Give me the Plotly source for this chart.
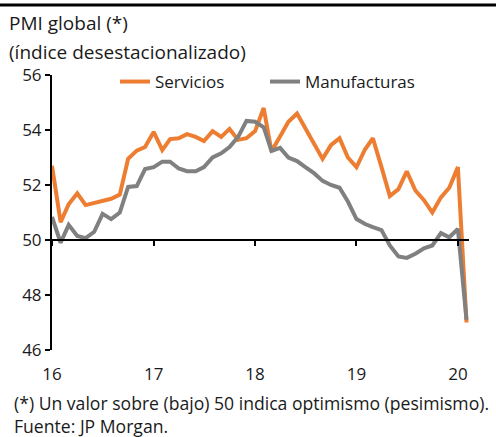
import pandas as pd
import plotly.graph_objects as go

# ---- data ----
start_month = "2016-01-01"
n_months = 50
meses = pd.date_range(start_month, periods=n_months, freq="MS")

servicios = [52.7, 50.65, 51.3, 51.7, 51.27, 51.35, 51.4, 51.5, 51.65, 52.95,
             53.25, 53.38, 53.93, 53.27, 53.67, 53.7, 53.85, 53.75, 53.6, 53.96,
             53.75, 54.04, 53.64, 53.7, 53.96, 54.8, 53.22, 53.75, 54.3, 54.6,
             54.05, 53.5, 52.95, 53.45, 53.7, 53.0, 52.65, 53.3, 53.7, 52.65,
             51.6, 51.85, 52.5, 51.8, 51.45, 51.0, 51.55, 51.9, 52.65, 47.0]

manufacturas = [50.84, 49.9, 50.55, 50.15, 50.07, 50.3, 50.95, 50.76, 51.0, 51.93,
                51.96, 52.58, 52.65, 52.85, 52.85, 52.6, 52.5, 52.5, 52.65, 53.0,
                53.15, 53.38, 53.75, 54.33, 54.3, 54.1, 53.24, 53.35, 53.0, 52.87,
                52.65, 52.43, 52.15, 52.0, 51.9, 51.4, 50.76, 50.58, 50.47, 50.36,
                49.8, 49.4, 49.35, 49.5, 49.7, 49.8, 50.25, 50.1, 50.4, 47.1]

y_ticks = [46, 48, 50, 52, 54, 56]
x_tick_labels = ["16", "17", "18", "19", "20"]
x_tick_vals = pd.date_range("2016-01-01", periods=5, freq="YS")

titulo1 = "PMI global (*)"
titulo2 = "(índice desestacionalizado)"
nota1 = "(*) Un valor sobre (bajo) 50 indica optimismo (pesimismo)."
nota2 = "Fuente: JP Morgan."

# ---- layout geometry ----
W, H = 496, 437
ML, MR, MT, MB = 52, 27, 75, 87
PW, PH = W - ML - MR, H - MT - MB
FONT = "Open Sans"
ORANGE = "#ED7D31"
GRAY = "#808080"


def px_x(px):
    return (px - ML) / PW


def px_y(py):
    return (H - MB - py) / PH


fig = go.Figure()
fig.add_trace(go.Scatter(x=meses, y=servicios, name="Servicios", mode="lines",
                         line=dict(color=ORANGE, width=4), xaxis="x"))
fig.add_trace(go.Scatter(x=meses, y=manufacturas, name="Manufacturas", mode="lines",
                         line=dict(color=GRAY, width=4), xaxis="x"))
# carrier for the bottom tick-label axis
fig.add_trace(go.Scatter(x=meses, y=servicios, mode="lines", opacity=0,
                         showlegend=False, hoverinfo="skip", xaxis="x2"))

xr = ["2016-01-01", "2020-02-10"]
fig.update_layout(
    width=W, height=H,
    margin=dict(l=ML, r=MR, t=MT, b=MB, pad=0, autoexpand=False),
    paper_bgcolor="white", plot_bgcolor="white",
    font=dict(family=FONT, size=17, color="#1a1a1a"),
    showlegend=True,
    legend=dict(orientation="h", xref="container", yref="container",
                x=115 / W, y=1 - 82 / H, xanchor="left", yanchor="middle",
                font=dict(size=17, family=FONT), bgcolor="rgba(0,0,0,0)",
                entrywidth=105, itemwidth=30, tracegroupgap=0),
    xaxis=dict(range=xr, type="date", anchor="free", position=(50 - 46) / 10,
               showline=True, linecolor="black", linewidth=2,
               ticks="outside", ticklen=5, tickwidth=2, tickcolor="black",
               tickvals=x_tick_vals, showticklabels=False,
               showgrid=False, zeroline=False),
    xaxis2=dict(range=xr, type="date", overlaying="x", matches="x", anchor="y",
                side="bottom", showline=False, showgrid=False, zeroline=False,
                tickvals=x_tick_vals, ticktext=x_tick_labels,
                ticks="outside", ticklen=9, tickcolor="rgba(0,0,0,0)",
                tickfont=dict(size=17, family=FONT)),
    yaxis=dict(range=[46, 56], tickvals=y_ticks, showline=True, linecolor="black",
               linewidth=2, ticks="outside", ticklen=5, tickwidth=2, tickcolor="black",
               showgrid=False, zeroline=False, tickfont=dict(size=17, family=FONT)),
)

fig.add_shape(type="line", xref="paper", yref="paper",
              x0=px_x(0), x1=px_x(W), y0=px_y(5), y1=px_y(5),
              line=dict(color="black", width=3))

for txt, yc, size in [(titulo1, 23, 19), (titulo2, 52, 19)]:
    fig.add_annotation(text=txt, xref="paper", yref="paper", x=px_x(7), y=px_y(yc),
                       xanchor="left", yanchor="middle", showarrow=False,
                       font=dict(size=size, family=FONT))
for txt, yc in [(nota1, 403), (nota2, 426)]:
    fig.add_annotation(text=txt, xref="paper", yref="paper", x=px_x(12), y=px_y(yc),
                       xanchor="left", yanchor="middle", showarrow=False,
                       font=dict(size=17.6, family=FONT))

fig.write_html("out.html", config={"displayModeBar": False},
               post_script="document.body.style.margin='0';"
                           "document.body.style.overflow='hidden';")
